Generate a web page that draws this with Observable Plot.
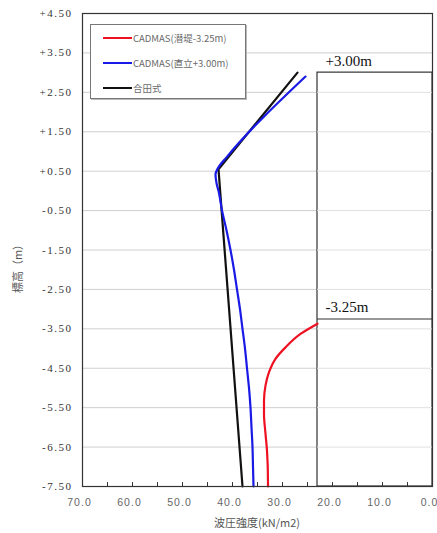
<!DOCTYPE html>
<html>
<head>
<meta charset="utf-8">
<script src="https://cdn.jsdelivr.net/npm/d3@7"></script>
<script src="https://cdn.jsdelivr.net/npm/@observablehq/plot@0.6"></script>
<style>
  html, body { margin: 0; padding: 0; background: #fff; }
  #wrap { position: relative; width: 437px; height: 533px; }
  #legend {
    position: absolute; left: 90px; top: 24px; width: 156px; height: 75px;
    background: #fff; border: 1px solid #777; box-sizing: border-box;
    box-shadow: 1px 1px 0 #bbb;
    font-family: "Noto Sans CJK JP", "Noto Sans", sans-serif; font-size: 9.5px; color: #6a6a6a;
  }
  .item { position: absolute; left: 12px; height: 12px; display: flex; align-items: center; }
  .swatch { width: 29px; height: 2px; margin-right: 1px; }
  #ytitle {
    position: absolute; left: 17px; top: 266px; transform: translate(-50%, -50%) rotate(-90deg);
    font-family: "Noto Sans CJK JP", sans-serif; font-size: 11px; color: #555; white-space: nowrap;
  }
  #xtitle {
    position: absolute; left: 257px; top: 522px; transform: translate(-50%, -50%);
    font-family: "Noto Sans CJK JP", sans-serif; font-size: 11px; color: #555; white-space: nowrap;
  }
</style>
</head>
<body>
<div id="wrap"></div>
<script>
// ---- data ----
const seriesNames = ["CADMAS(潜堤-3.25m)", "CADMAS(直立+3.00m)", "合田式"];
const seriesColors = ["#ee1122", "#1a1ae6", "#111111"];

// red: CADMAS submerged breakwater (pressure kN/m2, elevation m)
const redP = [23.0, 26.4, 29.4, 31.4, 32.7, 33.4, 33.7, 33.7, 33.4, 33.1, 32.9, 32.9];
const redZ = [-3.37, -3.63, -3.97, -4.26, -4.60, -4.94, -5.32, -5.66, -6.16, -6.59, -7.39, -7.50];

// blue: CADMAS vertical wall
const blueP = [25.4, 41.2, 42.9, 43.4, 43.2, 42.8, 42.1, 41.2, 40.4, 39.7, 39.1, 38.5, 38.0, 37.5, 37.1, 36.7, 36.4, 36.2, 36.0, 35.9, 35.8];
const blueZ = [2.90, 0.85, 0.58, 0.42, 0.20, 0.00, -0.50, -1.00, -1.50, -2.00, -2.50, -3.00, -3.50, -4.00, -4.50, -5.00, -5.50, -6.00, -6.50, -7.00, -7.50];

// black: Goda formula
const blackP = [27.0, 42.8, 38.0];
const blackZ = [3.00, 0.55, -7.50];

// structure outline
const wallP = [23.0, 0.0];
const wallZ = [-7.50, 3.00];
const submergedZ = -3.25;
const annoLabels = ["+3.00m", "-3.25m"];
const annoZ = [3.00, -3.25];

// ticks
const yTicks = [4.5, 3.5, 2.5, 1.5, 0.5, -0.5, -1.5, -2.5, -3.5, -4.5, -5.5, -6.5, -7.5];
const yTickLabels = ["+4.50", "+3.50", "+2.50", "+1.50", "+0.50", "-0.50", "-1.50", "-2.50", "-3.50", "-4.50", "-5.50", "-6.50", "-7.50"];
const xTicks = [70, 60, 50, 40, 30, 20, 10, 0];
const xTickLabels = ["70.0", "60.0", "50.0", "40.0", "30.0", "20.0", "10.0", "0.0"];
const xMinorTicks = [65, 55, 45, 35, 25, 15, 5];
const xTitle = "波圧強度(kN/m2)";
const yTitle = "標高（m）";

// ---- build ----
const toRows = (P, Z) => P.map((p, i) => ({p, z: Z[i]}));
const red = toRows(redP, redZ), blue = toRows(blueP, blueZ), black = toRows(blackP, blackZ);
const yLab = new Map(yTicks.map((t, i) => [t, yTickLabels[i]]));
const xLab = new Map(xTicks.map((t, i) => [t, xTickLabels[i]]));
const gridZ = yTicks.slice(1, -1);
const yMin = yTicks[yTicks.length - 1];
const allXTicks = xMinorTicks.concat(xTicks);

const chart = Plot.plot({
  width: 437, height: 533,
  marginLeft: 82, marginRight: 5, marginTop: 13, marginBottom: 47,
  x: {domain: [70, 0]},
  y: {domain: [-7.5, 4.5]},
  style: {background: "#fff", overflow: "visible"},
  marks: [
    Plot.ruleY(gridZ, {stroke: "#cfcfcf", strokeWidth: 1}),
    Plot.rect([{x1: wallP[0], x2: wallP[1], y1: wallZ[0], y2: wallZ[1]}], {x1: "x1", x2: "x2", y1: "y1", y2: "y2", fill: "#fff", stroke: "#333", strokeWidth: 1.2}),
    Plot.ruleY(gridZ.filter(z => z < wallZ[1]), {x1: wallP[0], x2: wallP[1], stroke: "#e0e0e0", strokeWidth: 1}),
    Plot.ruleY([submergedZ], {x1: wallP[0], x2: wallP[1], stroke: "#333", strokeWidth: 1.2}),
    Plot.text(annoLabels, {x: wallP[0], y: (d, i) => annoZ[i], text: d => d, dx: 8, dy: -7, textAnchor: "start", lineAnchor: "bottom",
      fontFamily: "Liberation Serif, serif", fontSize: 15, fill: "#111"}),
    Plot.ruleX(allXTicks, {x: d => d, y1: yMin, y2: yMin + 0.1, stroke: "#333", strokeWidth: 1}),
    Plot.line(black, {x: "p", y: "z", stroke: seriesColors[2], strokeWidth: 2.2}),
    Plot.line(blue, {x: "p", y: "z", stroke: seriesColors[1], strokeWidth: 2.2, curve: "monotone-y"}),
    Plot.line(red, {x: "p", y: "z", stroke: seriesColors[0], strokeWidth: 2.2, curve: "monotone-y"}),
    Plot.axisY({ticks: yTicks, tickFormat: d => yLab.get(d), tickSize: 0, tickPadding: 10, label: null,
      fontFamily: "Liberation Serif, serif", fontSize: 11, fill: "#333"}),
    Plot.axisX({ticks: xTicks, tickFormat: d => xLab.get(d), tickSize: 0, tickPadding: 12, label: null, dx: -3,
      fontFamily: "Liberation Sans, sans-serif", fontSize: 10.5, fill: "#666"}),
    Plot.frame({stroke: "#333", strokeWidth: 1.2})
  ]
});
chart.querySelectorAll('[aria-label="y-axis tick label"] text').forEach(t => t.setAttribute("letter-spacing", "1.5"));
chart.querySelectorAll('[aria-label="x-axis tick label"] text').forEach(t => t.setAttribute("letter-spacing", "1"));

const wrap = document.getElementById("wrap");
wrap.appendChild(chart);

const legend = document.createElement("div");
legend.id = "legend";
seriesNames.forEach((name, i) => {
  const it = document.createElement("div");
  it.className = "item";
  it.style.top = (7 + i * 25) + "px";
  const sw = document.createElement("div");
  sw.className = "swatch";
  sw.style.background = seriesColors[i];
  const tx = document.createElement("span");
  tx.textContent = name;
  it.appendChild(sw); it.appendChild(tx);
  legend.appendChild(it);
});
wrap.appendChild(legend);

const yt = document.createElement("div"); yt.id = "ytitle"; yt.textContent = yTitle; wrap.appendChild(yt);
const xt = document.createElement("div"); xt.id = "xtitle"; xt.textContent = xTitle; wrap.appendChild(xt);
</script>
</body>
</html>
